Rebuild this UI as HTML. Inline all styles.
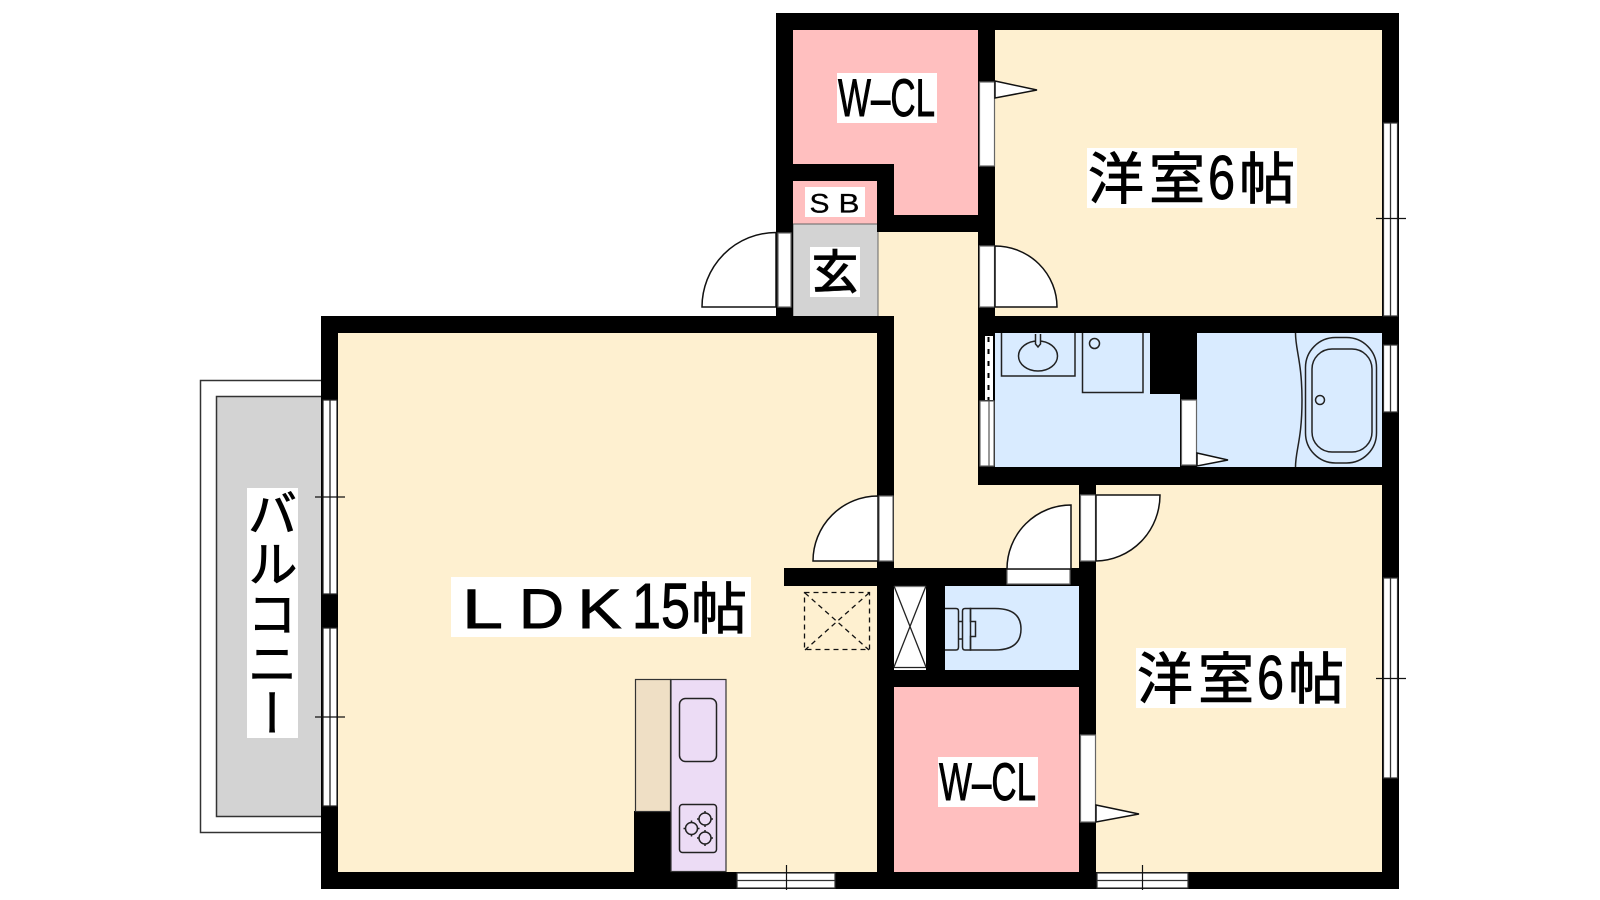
<!DOCTYPE html>
<html lang="ja">
<head>
<meta charset="utf-8">
<title>間取り図</title>
<style>
html,body{margin:0;padding:0;background:#fff;width:1600px;height:900px;overflow:hidden}
svg{display:block}
.j{font-family:"Liberation Sans","Noto Sans CJK JP",sans-serif;stroke:#000;stroke-width:.9}
.s{font-family:"Liberation Sans",sans-serif;stroke:#000;stroke-width:.9}
.door{fill:#fff;stroke:#111;stroke-width:1.5}
.win{fill:#fff;stroke:#666;stroke-width:1.2}
.ln{fill:none;stroke:#222;stroke-width:1.5}
.tick{stroke:#111;stroke-width:1.2;fill:none}
</style>
</head>
<body>
<svg width="1600" height="900" viewBox="0 0 1600 900" xmlns="http://www.w3.org/2000/svg">
<rect width="1600" height="900" fill="#fff"/>

<!-- balcony -->
<rect x="200.5" y="380.5" width="125" height="452" fill="#fff" stroke="#333" stroke-width="1.5"/>
<rect x="216.5" y="396.5" width="110" height="420" fill="#d3d3d3" stroke="#333" stroke-width="1.5"/>

<!-- room fills -->
<rect x="338" y="333" width="540" height="540" fill="#fef0d0"/>
<rect x="878" y="232" width="101" height="337" fill="#fef0d0"/>
<rect x="878" y="485" width="202" height="84" fill="#fef0d0"/>
<rect x="995" y="30" width="388" height="287" fill="#fef0d0"/>
<rect x="1096" y="485" width="287" height="388" fill="#fef0d0"/>
<polygon points="793,30 979,30 979,216 894,216 894,165 793,165" fill="#ffbfbf"/>
<rect x="793" y="181" width="85" height="43" fill="#ffbfbf"/>
<rect x="793" y="224" width="85" height="93" fill="#d3d3d3" stroke="#666" stroke-width="1"/>
<rect x="894" y="687" width="186" height="186" fill="#ffbfbf"/>
<rect x="995" y="333" width="388" height="135" fill="#d9ebff"/>
<rect x="945" y="586" width="135" height="85" fill="#d9ebff"/>

<!-- walls -->
<g fill="#000">
<rect x="776" y="13" width="623" height="17"/>
<rect x="776" y="13" width="17" height="304"/>
<rect x="793" y="164" width="101" height="17"/>
<rect x="877" y="164" width="17" height="68"/>
<rect x="877" y="215" width="118" height="17"/>
<rect x="978" y="13" width="17" height="472"/>
<rect x="1382" y="13" width="17" height="876"/>
<rect x="321" y="316" width="573" height="17"/>
<rect x="978" y="316" width="421" height="17"/>
<rect x="321" y="316" width="17" height="573"/>
<rect x="321" y="872" width="1078" height="17"/>
<rect x="877" y="316" width="17" height="573"/>
<rect x="978" y="467" width="421" height="18"/>
<rect x="1079" y="467" width="17" height="422"/>
<rect x="784" y="568" width="295" height="18"/>
<rect x="926" y="586" width="19" height="90"/>
<rect x="894" y="670" width="185" height="17"/>
<rect x="1150" y="333" width="47" height="61"/>
<rect x="1180" y="390" width="17" height="77"/>
<rect x="634" y="811" width="38" height="62"/>
</g>

<!-- entrance door -->
<rect class="win" x="778" y="233" width="13" height="74"/>
<path class="door" d="M776,232.5 A74,74.500 0 0 0 702,307 H776 Z"/>
<!-- W-CL door top -->
<rect class="win" x="979.500" y="82" width="15" height="84"/>
<polygon class="door" points="995,81 1037,90 995,98"/>
<!-- room door top -->
<rect class="win" x="979.500" y="246" width="15" height="61"/>
<path class="door" d="M995,246 A62,61 0 0 1 1057,307 H995 Z"/>
<!-- washroom left -->
<rect x="985" y="336" width="8" height="64" fill="#fff"/>
<line x1="988.500" y1="337" x2="988.500" y2="400" stroke="#000" stroke-width="2" stroke-dasharray="5 7"/>
<rect class="win" x="980" y="401" width="14" height="65"/>
<line x1="989" y1="401" x2="989" y2="466" stroke="#555" stroke-width="1.200"/>
<!-- bath door -->
<rect class="win" x="1181.500" y="400" width="15" height="65"/>
<polygon class="door" points="1197,453 1228,460 1197,466"/>
<!-- LDK door -->
<rect class="win" x="879" y="496" width="14" height="65"/>
<path class="door" d="M878,496 A65,65 0 0 0 813,561 H878 Z"/>
<!-- toilet door -->
<rect class="win" x="1007" y="569" width="63" height="15"/>
<path class="door" d="M1071,505 A64,64 0 0 0 1007,569 H1071 Z"/>
<!-- lower room door -->
<rect class="win" x="1080.500" y="495" width="15" height="66"/>
<path class="door" d="M1096,495 H1160 A65,66 0 0 1 1096,561 Z"/>
<!-- lower W-CL door -->
<rect class="win" x="1080.500" y="735" width="15" height="87"/>
<polygon class="door" points="1096,805 1139,814 1096,822"/>

<!-- windows left -->
<g>
<rect class="win" x="323" y="400" width="14" height="194" style="stroke:#222"/>
<line x1="330" y1="400" x2="330" y2="594" stroke="#222" stroke-width="1.300"/>
<rect class="win" x="323" y="628" width="14" height="178" style="stroke:#222"/>
<line x1="330" y1="628" x2="330" y2="806" stroke="#222" stroke-width="1.300"/>
<line class="tick" x1="315" y1="497" x2="345" y2="497"/>
<line class="tick" x1="315" y1="717" x2="345" y2="717"/>
</g>
<!-- windows right -->
<g>
<rect class="win" x="1383.500" y="123" width="14" height="193" style="stroke:#333"/>
<line x1="1390.500" y1="123" x2="1390.500" y2="316" stroke="#333" stroke-width="1.300"/>
<rect class="win" x="1383.500" y="345" width="14" height="67" style="stroke:#333"/>
<line x1="1390.500" y1="345" x2="1390.500" y2="412" stroke="#333" stroke-width="1.300"/>
<rect class="win" x="1383.500" y="578" width="14" height="200" style="stroke:#333"/>
<line x1="1390.500" y1="578" x2="1390.500" y2="778" stroke="#333" stroke-width="1.300"/>
<line class="tick" x1="1376" y1="218.500" x2="1406" y2="218.500"/>
<line class="tick" x1="1376" y1="678.500" x2="1406" y2="678.500"/>
</g>
<!-- windows bottom -->
<g>
<rect class="win" x="737" y="873" width="98" height="15" style="stroke:#333"/>
<line x1="737" y1="880.500" x2="835" y2="880.500" stroke="#333" stroke-width="1.200"/>
<rect class="win" x="1097" y="873" width="91" height="15" style="stroke:#333"/>
<line x1="1097" y1="880.500" x2="1188" y2="880.500" stroke="#333" stroke-width="1.200"/>
<line class="tick" x1="786.500" y1="865" x2="786.500" y2="890"/>
<line class="tick" x1="1142.500" y1="865" x2="1142.500" y2="890"/>
</g>

<!-- kitchen -->
<rect x="635.500" y="679.500" width="35" height="132" fill="#efdfc5" stroke="#333" stroke-width="1.200"/>
<rect x="671" y="679.500" width="55" height="192" fill="#ecdcf5" stroke="#333" stroke-width="1.200"/>
<rect class="ln" x="679.500" y="698.500" width="37" height="63" rx="6"/>
<rect class="ln" x="679.500" y="804.500" width="37" height="48" rx="3"/>
<circle class="ln" cx="705" cy="819" r="6"/>
<circle class="ln" cx="691.500" cy="828.500" r="6"/>
<circle class="ln" cx="705" cy="838" r="6"/>
<path class="ln" stroke-width="1" d="M705,811 v2 M705,825 v2 M697,819 h2 M711,819 h2 M691.500,820.500 v2 M691.500,834.500 v2 M683.500,828.500 h2 M697.500,828.500 h2 M705,830 v2 M705,844 v2 M697,838 h2 M711,838 h2"/>

<!-- dashed box -->
<g fill="none" stroke="#111" stroke-width="1.300" stroke-dasharray="5 4">
<rect x="804.500" y="592.500" width="65" height="57"/>
<line x1="805" y1="593" x2="869" y2="650"/>
<line x1="869" y1="593" x2="805" y2="650"/>
</g>

<!-- closet -->
<rect x="894" y="586" width="32" height="84" fill="#fff"/>
<g stroke="#222" stroke-width="1.300" fill="none">
<line x1="894" y1="586.500" x2="926" y2="586.500" stroke="#777"/>
<line x1="894" y1="586" x2="926" y2="667"/>
<line x1="926" y1="586" x2="894" y2="667"/>
<line x1="894" y1="667.500" x2="926" y2="667.500"/>
</g>

<!-- toilet -->
<g class="ln" fill="none" stroke="#222" stroke-width="1.500">
<path d="M945,608.500 H956 Q958.500,608.500 958.500,611 V647 Q958.500,650 956,650 H945"/>
<path d="M958.500,621.500 H962.500 M958.500,639 H962.500"/>
<path d="M970.500,608.500 H965 Q962.500,608.500 962.500,611 V647 Q962.500,650 965,650 H970.500 Z"/>
<path d="M970.500,608.500 H995 Q1021,608.500 1021,629 Q1021,650 995,650 H970.500 V636.500 H975.500 V621.500 H970.500 Z"/>
</g>

<!-- washroom fixtures -->
<g fill="none" stroke="#222" stroke-width="1.500">
<path d="M1001.500,333 V376 H1075 V333"/>
<ellipse cx="1038" cy="356" rx="19.500" ry="15"/>
<path d="M1035.500,334 V344 L1038,347 L1040.500,344 V334" fill="#d9ebff"/>
<path d="M1082.500,333 V392.500 H1143 V333"/>
<circle cx="1094.500" cy="343.500" r="5"/>
<path d="M1295.500,333 C1295.500,350 1302,362 1302,400 C1302,440 1295.500,450 1295.500,467"/>
<rect x="1305.500" y="337.500" width="71" height="125.500" rx="30"/>
<rect x="1312" y="349" width="60" height="103" rx="20"/>
<circle cx="1320" cy="400" r="4.500"/>
</g>

<!-- labels -->
<rect x="837" y="73" width="100" height="50" fill="#fff"/>
<text class="s" x="838" y="116" font-size="53" textLength="97" lengthAdjust="spacingAndGlyphs">W–CL</text>

<rect x="938" y="757" width="100" height="50" fill="#fff"/>
<text class="s" x="939" y="800" font-size="53" textLength="97" lengthAdjust="spacingAndGlyphs">W–CL</text>

<rect x="805" y="187" width="60" height="30" fill="#fff"/>
<text class="s" x="809.500" y="212.500" font-size="27" textLength="20" lengthAdjust="spacingAndGlyphs" style="stroke-width:.3">S</text>
<text class="s" x="838.500" y="212.500" font-size="27" textLength="21" lengthAdjust="spacingAndGlyphs" style="stroke-width:.3">B</text>

<rect x="810" y="247" width="50" height="50" fill="#fff"/>
<text class="j" x="811.500" y="289" font-size="47" font-weight="500" style="stroke-width:.3">玄</text>

<rect x="1087" y="148" width="210" height="60" fill="#fff"/>
<text class="j" x="1088" y="199" font-size="56">洋</text>
<text class="j" x="1149" y="199" font-size="56">室</text>
<text class="s" x="1208" y="199" font-size="62" textLength="27" lengthAdjust="spacingAndGlyphs">6</text>
<text class="j" x="1239" y="199" font-size="56">帖</text>

<rect x="1136" y="648" width="210" height="60" fill="#fff"/>
<text class="j" x="1137" y="699" font-size="56">洋</text>
<text class="j" x="1198" y="699" font-size="56">室</text>
<text class="s" x="1257" y="699" font-size="62" textLength="27" lengthAdjust="spacingAndGlyphs">6</text>
<text class="j" x="1288" y="699" font-size="56">帖</text>

<rect x="451" y="577" width="300" height="60" fill="#fff"/>
<text class="s" x="462" y="628" font-size="56" textLength="41" lengthAdjust="spacingAndGlyphs">L</text>
<text class="s" x="519" y="628" font-size="56" textLength="45" lengthAdjust="spacingAndGlyphs">D</text>
<text class="s" x="577.500" y="628" font-size="56" textLength="44" lengthAdjust="spacingAndGlyphs">K</text>
<text class="s" x="632" y="628" font-size="64" textLength="58" lengthAdjust="spacingAndGlyphs">15</text>
<text class="j" x="691" y="629" font-size="56">帖</text>

<rect x="247" y="488" width="51" height="250" fill="#fff"/>
<text class="j" x="268.500" y="488" font-size="50" style="writing-mode:vertical-rl;text-orientation:mixed">バルコニー</text>
</svg>
</body>
</html>
